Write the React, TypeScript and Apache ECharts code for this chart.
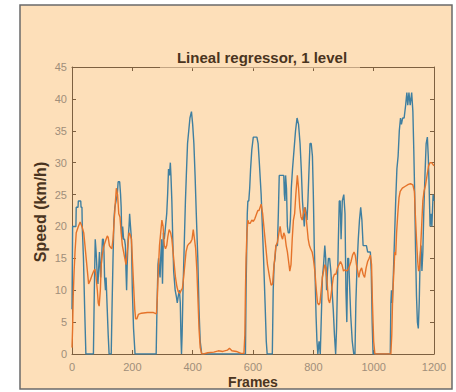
import React, { useEffect, useRef } from "react";
import * as echarts from "echarts";

// Measured speed (blue) and linear-regressor estimate (orange) per frame
const measuredFrames = [0, 2, 13, 14, 20, 21, 29, 30, 33, 34, 38, 42, 46, 71, 74, 77, 80, 84, 86, 88, 91, 95, 99, 101, 104, 106, 108, 110, 111, 113, 116, 120, 123, 130, 133, 136, 139, 142, 146, 150, 153, 158, 161, 163, 165, 168, 171, 174, 177, 179, 181, 183, 186, 189, 191, 194, 197, 200, 204, 209, 279, 282, 285, 287, 290, 292, 294, 297, 300, 303, 306, 310, 314, 317, 320, 323, 326, 328, 331, 334, 337, 342, 346, 349, 352, 356, 359, 361, 363, 365, 368, 372, 376, 379, 383, 387, 391, 396, 400, 404, 408, 412, 417, 421, 425, 430, 575, 577, 579, 581, 583, 586, 589, 592, 596, 601, 613, 617, 621, 627, 631, 635, 640, 644, 647, 664, 667, 670, 673, 676, 681, 684, 687, 702, 704, 706, 708, 711, 714, 717, 721, 724, 727, 731, 736, 741, 746, 751, 756, 760, 764, 767, 770, 773, 776, 779, 782, 785, 789, 793, 797, 800, 803, 806, 809, 812, 815, 819, 823, 826, 830, 834, 838, 841, 844, 847, 850, 854, 858, 862, 866, 870, 874, 877, 880, 883, 886, 889, 892, 896, 901, 905, 908, 911, 914, 917, 920, 924, 929, 934, 938, 941, 945, 949, 953, 957, 961, 965, 976, 980, 989, 992, 995, 998, 1055, 1057, 1059, 1062, 1065, 1069, 1073, 1077, 1081, 1085, 1089, 1092, 1096, 1101, 1106, 1110, 1113, 1117, 1121, 1126, 1130, 1133, 1136, 1139, 1142, 1145, 1148, 1151, 1154, 1157, 1160, 1163, 1166, 1170, 1174, 1178, 1181, 1184, 1187, 1190, 1193, 1197, 1200];
const measuredSpeed = [7, 20, 20, 23, 23, 24, 24, 23, 23, 20, 15, 7, 0, 0, 10, 18, 16, 12, 11, 13, 16, 12, 16, 18, 18, 16, 12, 12, 10, 12, 8, 3, 0, 0, 8, 15, 21, 23, 24, 25, 27, 27, 25, 23, 18, 20, 18, 18, 17, 13, 10, 14, 18, 20, 22, 20, 18, 10, 4, 0, 0, 8, 14, 15, 13, 12, 15, 18, 11, 19, 18, 20, 22, 25, 29, 28, 30, 28, 24, 18, 13, 10, 9, 8, 9, 10, 8, 3, 0, 3, 10, 17, 24, 28, 33, 35, 37, 38, 36, 33, 28, 22, 15, 7, 2, 0, 0, 10, 16, 22, 24, 24, 26, 29, 32, 34, 34, 33, 30, 25, 20, 15, 8, 2, 0, 0, 10, 14, 15, 17, 17, 22, 28, 28, 25, 24, 28, 26, 20, 19, 19, 21, 26, 29, 32, 35, 37, 36, 33, 29, 24, 22, 20, 23, 22, 21, 24, 28, 33, 33, 31, 25, 17, 12, 6, 2, 0, 2, 0, 5, 12, 14, 17, 15, 10, 13, 15, 15, 13, 10, 7, 3, 0, 4, 11, 18, 24, 24, 18, 24, 25, 22, 10, 5, 15, 15, 11, 6, 2, 0, 0, 8, 14, 18, 21, 23, 21, 17, 17, 16, 16, 13, 5, 0, 0, 8, 10, 8, 12, 18, 24, 29, 31, 35, 37, 36, 37, 37, 39, 41, 39, 41, 39, 41, 38, 32, 25, 16, 9, 5, 4, 8, 15, 17, 13, 16, 22, 28, 33, 34, 31, 26, 20, 22, 20, 25, 24];

const estimatedFrames = [0, 2, 4, 7, 10, 14, 21, 27, 33, 39, 43, 47, 52, 55, 60, 66, 72, 76, 80, 84, 87, 90, 94, 97, 100, 104, 108, 113, 117, 120, 124, 128, 132, 136, 140, 144, 147, 151, 155, 159, 163, 167, 171, 175, 179, 182, 185, 189, 193, 197, 200, 204, 208, 211, 215, 220, 230, 250, 270, 280, 283, 286, 290, 294, 298, 302, 306, 310, 314, 318, 322, 327, 331, 335, 339, 343, 348, 352, 357, 362, 366, 370, 374, 378, 383, 388, 393, 398, 402, 406, 410, 414, 418, 421, 425, 430, 436, 450, 470, 485, 500, 515, 522, 530, 545, 560, 570, 573, 575, 577, 580, 583, 586, 591, 596, 601, 606, 612, 616, 620, 627, 632, 636, 642, 648, 655, 660, 665, 668, 672, 676, 681, 686, 690, 694, 698, 702, 706, 710, 714, 718, 722, 726, 730, 734, 738, 742, 747, 751, 755, 759, 763, 767, 771, 775, 779, 783, 787, 791, 796, 800, 805, 810, 814, 818, 822, 826, 830, 834, 838, 842, 846, 850, 854, 858, 862, 866, 870, 875, 880, 885, 890, 895, 900, 905, 910, 915, 920, 925, 930, 935, 939, 943, 947, 951, 955, 960, 965, 970, 975, 980, 985, 989, 993, 996, 1000, 1004, 1057, 1060, 1063, 1067, 1070, 1073, 1076, 1080, 1084, 1088, 1095, 1105, 1115, 1122, 1130, 1135, 1138, 1142, 1146, 1149, 1152, 1155, 1159, 1163, 1167, 1172, 1177, 1182, 1187, 1192, 1200];
const estimatedSpeed = [1, 4, 9, 13, 16, 19, 20, 20.7, 20, 19, 17, 15, 12.5, 11, 11.5, 12.3, 13, 13.3, 12, 10, 8, 7.5, 10, 14, 15.5, 16.5, 17.3, 18, 18.5, 18.3, 17, 16.7, 16.5, 18, 21, 24, 26, 25, 22, 21.5, 19, 17, 16, 15, 14, 15.5, 17, 19, 18.7, 18, 15, 11, 7, 5.5, 5.5, 6.2, 6.4, 6.5, 6.5, 6.3, 9, 13, 17, 19, 21, 20, 17, 16.5, 17, 18.5, 19.5, 19, 18, 16, 14, 12, 10.5, 9.8, 9.5, 10, 10.3, 12, 14, 16, 17, 17.3, 17.5, 18, 19.5, 18, 16.5, 13, 8, 4, 1, 0, 0, 0.2, 0.3, 0.5, 0.4, 0.6, 0.9, 0.5, 0.4, 0.1, 0.1, 3, 10, 15, 19, 21, 20.5, 20.5, 21, 20.8, 21.2, 22, 22.5, 22.5, 23.5, 22, 20, 17, 14, 12, 10.8, 11, 13, 15, 17, 17.5, 19, 20, 18.5, 18, 19, 18.5, 17, 16, 14.5, 13, 14, 18, 21, 22, 25, 28, 26, 23, 21.5, 21, 22, 23, 22, 20, 18, 17, 16.5, 16, 15, 13, 10, 8, 7.7, 8, 10, 12, 13, 14, 13.5, 11, 8.5, 8, 9, 10.5, 12, 12.5, 12.5, 13.5, 14, 14.5, 14, 13, 13.2, 13, 13.2, 13.8, 14.5, 15.5, 16, 15.5, 14, 13, 12, 13, 13.5, 12.5, 12, 13.5, 14.5, 15, 15.5, 14, 8, 2, 0, 0, 3, 9, 13, 16, 15.5, 19, 22, 24.5, 25.5, 26, 26.3, 26.6, 26.7, 26.5, 25.5, 22, 18, 14.5, 13, 13.5, 16, 20, 24, 25.5, 26.5, 28, 29.5, 30, 30, 29.5];

const xTicks = { min: 0, max: 1200, interval: 200 };
const yTicks = { min: 0, max: 45, interval: 5 };

const PEACH = "#fddfb9";
const AXIS = "#7d6040";
const TICK_TEXT = "#a08e7a";
const TITLE = "#4a3420";
const FONT = "'Liberation Sans', Arial, sans-serif";

const pairs = (xs: number[], ys: number[]) => xs.map((x, i) => [x, ys[i]]);

export default function App() {
  const ref = useRef<HTMLDivElement>(null);

  useEffect(() => {
    if (!ref.current) return;
    const chart = echarts.init(ref.current, undefined, { renderer: "svg" });

    const axisLine = { show: true, onZero: false, lineStyle: { color: AXIS, width: 1 } };
    const tick = { show: true, inside: true, length: 4, lineStyle: { color: AXIS } };
    const plain = (v: number) => String(v);

    chart.setOption({
      animation: false,
      backgroundColor: "#ffffff",
      grid: { left: 72, right: 22, top: 67, bottom: 38, containLabel: false },
      xAxis: [
        {
          type: "value",
          position: "bottom",
          ...xTicks,
          axisLine,
          axisTick: tick,
          splitLine: { show: false },
          axisLabel: { color: TICK_TEXT, fontSize: 11, fontFamily: FONT, margin: 7, formatter: plain },
        },
        {
          type: "value",
          position: "top",
          ...xTicks,
          axisLine,
          axisTick: tick,
          splitLine: { show: false },
          axisLabel: { show: false },
        },
      ],
      yAxis: [
        {
          type: "value",
          position: "left",
          ...yTicks,
          axisLine,
          axisTick: tick,
          splitLine: { show: false },
          axisLabel: { color: TICK_TEXT, fontSize: 11, fontFamily: FONT, margin: 5, formatter: plain },
        },
        {
          type: "value",
          position: "right",
          ...yTicks,
          axisLine,
          axisTick: tick,
          splitLine: { show: false },
          axisLabel: { show: false },
        },
      ],
      graphic: [
        {
          type: "rect",
          z: -10,
          shape: { x: 20, y: 5, width: 432, height: 384 },
          style: { fill: PEACH, stroke: "none" },
        },
        {
          type: "rect",
          z: 50,
          shape: { x: 160, y: 65.5, width: 200, height: 3 },
          style: { fill: PEACH, opacity: 0.55 },
        },
        {
          type: "text",
          z: 60,
          x: 262,
          y: 57.5,
          style: {
            text: "Lineal regressor, 1 level",
            fill: TITLE,
            font: `bold 15px ${FONT}`,
            textAlign: "center",
            textVerticalAlign: "middle",
          },
        },
        {
          type: "text",
          z: 60,
          x: 40,
          y: 212,
          rotation: Math.PI / 2,
          style: {
            text: "Speed (km/h)",
            fill: TITLE,
            font: `bold 16px ${FONT}`,
            textAlign: "center",
            textVerticalAlign: "middle",
          },
        },
        {
          type: "text",
          z: 60,
          x: 253,
          y: 375,
          style: {
            text: "Frames",
            fill: TITLE,
            font: `bold 14px ${FONT}`,
            textAlign: "center",
            textVerticalAlign: "top",
          },
        },
        {
          type: "rect",
          z: 70,
          shape: { x: 0, y: 390, width: 456, height: 4 },
          style: { fill: "#ffffff" },
        },
        {
          type: "rect",
          z: 80,
          shape: { x: 20, y: 5, width: 432, height: 384 },
          style: { fill: "none", stroke: "#6a6a6a", lineWidth: 1.5 },
        },
      ],
      series: [
        {
          type: "line",
          xAxisIndex: 0,
          yAxisIndex: 0,
          data: pairs(measuredFrames, measuredSpeed),
          showSymbol: false,
          lineStyle: { color: "#3f7fa0", width: 1.4 },
          itemStyle: { color: "#3f7fa0" },
          silent: true,
        },
        {
          type: "line",
          xAxisIndex: 0,
          yAxisIndex: 0,
          data: pairs(estimatedFrames, estimatedSpeed),
          showSymbol: false,
          lineStyle: { color: "#e5732a", width: 1.4 },
          itemStyle: { color: "#e5732a" },
          silent: true,
        },
      ],
    });

    return () => chart.dispose();
  }, []);

  return (
    <div
      ref={ref}
      style={{ position: "fixed", left: 0, top: 0, width: 456, height: 392 }}
    />
  );
}
